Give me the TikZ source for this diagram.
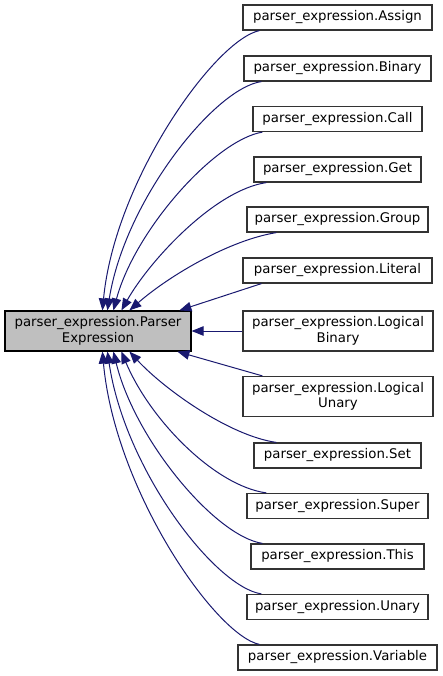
\documentclass[tikz,border=0pt]{standalone}
\usepackage{fontspec}
\setmainfont{DejaVu Sans}
\usetikzlibrary{arrows.meta}
\definecolor{edgecol}{HTML}{191970}
\definecolor{boxborder}{HTML}{333333}
\begin{document}
\begin{tikzpicture}[x=1pt,y=-1pt,
  box/.style={draw=boxborder, line width=1.2pt, fill=white, inner sep=0pt, minimum height=25pt, align=center, font=\fontsize{13.3}{15.5}\selectfont},
  mainbox/.style={box, draw=black, fill=black!25},
  arr/.style={draw=edgecol, line width=1pt, -{Triangle[length=12pt,width=9.5pt]}}]
\useasboundingbox[fill=white] (0,0) rectangle (443,676);
\node[mainbox, minimum width=186pt, minimum height=40pt] (pe) at (98,331) {parser\_expression.Parser\\Expression};
\node[box, minimum width=189pt] (assign) at (337.5,17.5) {parser\_expression.Assign};
\node[box, minimum width=187pt] (binary) at (337.5,68.5) {parser\_expression.Binary};
\node[box, minimum width=169pt] (call) at (337.5,119) {parser\_expression.Call};
\node[box, minimum width=167pt] (get) at (337.5,169.5) {parser\_expression.Get};
\node[box, minimum width=181pt] (group) at (337.5,219.5) {parser\_expression.Group};
\node[box, minimum width=189pt] (literal) at (337.5,270.5) {parser\_expression.Literal};
\node[box, minimum width=190pt, minimum height=40pt] (lbinary) at (338,331) {parser\_expression.Logical\\Binary};
\node[box, minimum width=190pt, minimum height=40pt] (lunary) at (338,396.5) {parser\_expression.Logical\\Unary};
\node[box, minimum width=167pt] (set) at (337.5,455.5) {parser\_expression.Set};
\node[box, minimum width=181pt] (super) at (337.5,506) {parser\_expression.Super};
\node[box, minimum width=173pt] (this) at (337.5,556.5) {parser\_expression.This};
\node[box, minimum width=181pt] (unary) at (337.5,607) {parser\_expression.Unary};
\node[box, minimum width=199pt] (variable) at (337.5,657.5) {parser\_expression.Variable};
% top edges
\draw[arr] ([xshift=17pt]assign.south west) .. controls (215,40) and (115,180) .. ([xshift=98pt]pe.north west);
\draw[arr] ([xshift=18pt]binary.south west) .. controls (215,88) and (125,200) .. ([xshift=103pt]pe.north west);
\draw[arr] ([xshift=10pt]call.south west) .. controls (215,140) and (135,230) .. ([xshift=109pt]pe.north west);
\draw[arr] ([xshift=13pt]get.south west) .. controls (215,190) and (150,260) .. ([xshift=117pt]pe.north west);
\draw[arr] ([xshift=30pt]group.south west) .. controls (230,240) and (170,275) .. ([xshift=125pt]pe.north west);
\draw[arr] ([xshift=19pt]literal.south west) -- ([xshift=175pt]pe.north west);
\draw[arr] (lbinary.west) -- (pe.east);
\draw[arr] ([xshift=20pt]lunary.north west) -- ([xshift=173pt]pe.south west);
% bottom edges
\draw[arr] ([xshift=23pt]set.north west) .. controls (230,436) and (165,390) .. ([xshift=125pt]pe.south west);
\draw[arr] ([xshift=20pt]super.north west) .. controls (215,486) and (150,420) .. ([xshift=117pt]pe.south west);
\draw[arr] ([xshift=12pt]this.north west) .. controls (215,536) and (135,440) .. ([xshift=109pt]pe.south west);
\draw[arr] ([xshift=15pt]unary.north west) .. controls (215,587) and (125,470) .. ([xshift=103pt]pe.south west);
\draw[arr] ([xshift=22pt]variable.north west) .. controls (215,635) and (115,490) .. ([xshift=98pt]pe.south west);
\end{tikzpicture}
\end{document}
